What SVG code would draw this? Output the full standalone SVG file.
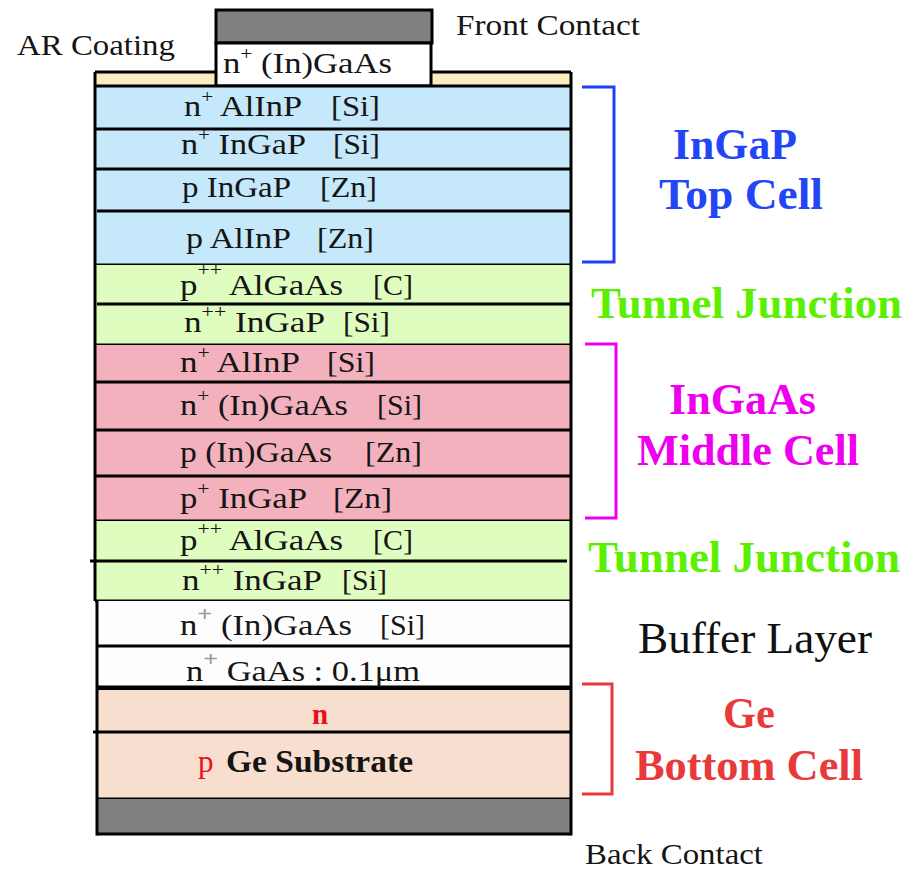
<svg xmlns="http://www.w3.org/2000/svg" width="904" height="871" viewBox="0 0 904 871">
<style>
.t{font-family:"Liberation Serif","DejaVu Serif","Times New Roman",serif;font-size:29px;fill:#151515}
.b{font-family:"Liberation Serif","DejaVu Serif","Times New Roman",serif;font-size:44px;font-weight:bold}
.r{font-family:"Liberation Serif","DejaVu Serif","Times New Roman",serif;font-size:44px;fill:#111}
.ln{stroke:#000;stroke-width:3;fill:none}
.blue{fill:#c5e8fb}.green{fill:#e0fdc0}.pink{fill:#f3b1be}.white{fill:#fdfdfd}.ge{fill:#f7dece}.ar{fill:#faebc0}.gray{fill:#808080}
</style>
<rect width="904" height="871" fill="#fff"/>

<g id="labels-top">
<text class="t" x="17" y="55" textLength="158" lengthAdjust="spacingAndGlyphs">AR Coating</text>
<text class="t" x="456" y="35" textLength="184" lengthAdjust="spacingAndGlyphs">Front Contact</text>
<text class="t" x="585" y="864" textLength="178" lengthAdjust="spacingAndGlyphs">Back Contact</text>
</g>

<g id="ar-coating">
<rect class="ar" x="95" y="72" width="476" height="14"/>
<path class="ln" d="M95,72 H571"/>
</g>

<g id="front-contact">
<rect class="gray" x="216" y="10" width="216" height="33" stroke="#000" stroke-width="3"/>
</g>
<g id="cap-layer">
<rect x="216" y="43" width="215" height="43" fill="#fff" stroke="#000" stroke-width="3"/>
<text class="t" x="223" y="73" textLength="169" lengthAdjust="spacingAndGlyphs">n<tspan font-size="18" dy="-13">+</tspan><tspan dy="13"> (In)GaAs</tspan></text>
</g>

<g id="top-cell">
<rect class="blue" x="95" y="86" width="476" height="179"/>
<path class="ln" d="M95,86 H571 M95,129 H571 M95,169 H571 M97,211 H571 M95,265 H571"/>
<text class="t" x="184" y="116" textLength="118" lengthAdjust="spacingAndGlyphs">n<tspan font-size="18" dy="-13">+</tspan><tspan dy="13"> AlInP</tspan></text>
<text class="t" x="331" y="116" textLength="49" lengthAdjust="spacingAndGlyphs">[Si]</text>
<text class="t" x="181" y="154" textLength="125" lengthAdjust="spacingAndGlyphs">n<tspan font-size="18" dy="-13">+</tspan><tspan dy="13"> InGaP</tspan></text>
<text class="t" x="333" y="154" textLength="47" lengthAdjust="spacingAndGlyphs">[Si]</text>
<text class="t" x="182" y="197" textLength="109" lengthAdjust="spacingAndGlyphs">p InGaP</text>
<text class="t" x="320" y="197" textLength="57" lengthAdjust="spacingAndGlyphs">[Zn]</text>
<text class="t" x="186" y="248" textLength="105" lengthAdjust="spacingAndGlyphs">p AlInP</text>
<text class="t" x="317" y="248" textLength="57" lengthAdjust="spacingAndGlyphs">[Zn]</text>
</g>

<g id="tunnel-junction-1">
<rect class="green" x="95" y="265" width="476" height="80"/>
<path class="ln" d="M97,304 H571 M95,345 H571"/>
<text class="t" x="180" y="295" textLength="163" lengthAdjust="spacingAndGlyphs">p<tspan font-size="18" dy="-19">++</tspan><tspan dy="19"> AlGaAs</tspan></text>
<text class="t" x="373" y="295" textLength="40" lengthAdjust="spacingAndGlyphs">[C]</text>
<text class="t" x="184" y="332" textLength="141" lengthAdjust="spacingAndGlyphs">n<tspan font-size="18" dy="-14">++</tspan><tspan dy="14"> InGaP</tspan></text>
<text class="t" x="343" y="332" textLength="47" lengthAdjust="spacingAndGlyphs">[Si]</text>
</g>

<g id="middle-cell">
<rect class="pink" x="95" y="345" width="476" height="176"/>
<path class="ln" d="M95,382 H571 M95,430 H571 M95,476 H571 M95,521 H571"/>
<text class="t" x="180" y="372" textLength="120" lengthAdjust="spacingAndGlyphs">n<tspan font-size="18" dy="-13">+</tspan><tspan dy="13"> AlInP</tspan></text>
<text class="t" x="327" y="372" textLength="48" lengthAdjust="spacingAndGlyphs">[Si]</text>
<text class="t" x="180" y="415" textLength="168" lengthAdjust="spacingAndGlyphs">n<tspan font-size="18" dy="-13">+</tspan><tspan dy="13"> (In)GaAs</tspan></text>
<text class="t" x="377" y="415" textLength="45" lengthAdjust="spacingAndGlyphs">[Si]</text>
<text class="t" x="180" y="462" textLength="152" lengthAdjust="spacingAndGlyphs">p (In)GaAs</text>
<text class="t" x="365" y="462" textLength="57" lengthAdjust="spacingAndGlyphs">[Zn]</text>
<text class="t" x="180" y="508" textLength="127" lengthAdjust="spacingAndGlyphs">p<tspan font-size="18" dy="-13">+</tspan><tspan dy="13"> InGaP</tspan></text>
<text class="t" x="333" y="508" textLength="59" lengthAdjust="spacingAndGlyphs">[Zn]</text>
</g>

<g id="tunnel-junction-2">
<rect class="green" x="95" y="521" width="476" height="80"/>
<path class="ln" d="M90,561 H567 M95,601 H571"/>
<text class="t" x="180" y="550" textLength="163" lengthAdjust="spacingAndGlyphs">p<tspan font-size="18" dy="-15">++</tspan><tspan dy="15"> AlGaAs</tspan></text>
<text class="t" x="373" y="550" textLength="40" lengthAdjust="spacingAndGlyphs">[C]</text>
<text class="t" x="182" y="590" textLength="140" lengthAdjust="spacingAndGlyphs">n<tspan font-size="18" dy="-14">++</tspan><tspan dy="14"> InGaP</tspan></text>
<text class="t" x="342" y="590" textLength="45" lengthAdjust="spacingAndGlyphs">[Si]</text>
</g>

<g id="buffer-layer">
<rect class="white" x="97" y="601" width="474" height="86"/>
<path class="ln" d="M97,646 H571"/>
<path d="M97,688 H571" stroke="#000" stroke-width="5"/>
<text class="t" x="180" y="635" textLength="172" lengthAdjust="spacingAndGlyphs">n<tspan font-size="22" font-weight="bold" fill="#9a9a9a" dy="-14">+</tspan><tspan dy="14"> (In)GaAs</tspan></text>
<text class="t" x="380" y="635" textLength="45" lengthAdjust="spacingAndGlyphs">[Si]</text>
<text class="t" x="186" y="681" textLength="234" lengthAdjust="spacingAndGlyphs">n<tspan font-size="22" font-weight="bold" fill="#9a9a9a" dy="-15">+</tspan><tspan dy="15"> GaAs : 0.1μm</tspan></text>
</g>

<g id="bottom-cell">
<rect class="ge" x="97" y="690" width="474" height="109"/>
<path class="ln" d="M93,732 H571 M97,799 H571"/>
<text class="t" x="312" y="724" font-weight="bold" style="fill:#e8101a;font-size:29px">n</text>
<text class="t" x="198" y="772" style="fill:#e8101a;font-size:31px">p</text>
<text class="t" x="226" y="772" font-weight="bold" textLength="187" lengthAdjust="spacingAndGlyphs" style="font-size:31px">Ge Substrate</text>
</g>

<g id="back-contact">
<rect class="gray" x="97" y="799" width="474" height="35"/>
<path class="ln" d="M97,834 H571"/>
</g>

<g id="outline">
<path class="ln" d="M95,72 V601 M97,601 V835.5 M571,72 V835.5"/>
</g>

<g id="brackets">
<path d="M582,87 H614 V262 H582" fill="none" stroke="#2040f8" stroke-width="3"/>
<path d="M585,344 H616 V518 H585" fill="none" stroke="#ee00ee" stroke-width="3"/>
<path d="M582,684 H612 V794 H582" fill="none" stroke="#e83a3a" stroke-width="3"/>
</g>

<g id="cell-labels">
<text class="b" x="673" y="159" fill="#2346f5" textLength="124" lengthAdjust="spacingAndGlyphs">InGaP</text>
<text class="b" x="659" y="209" fill="#2346f5" textLength="164" lengthAdjust="spacingAndGlyphs">Top Cell</text>
<text class="b" x="591" y="318" fill="#5cf000" textLength="311" lengthAdjust="spacingAndGlyphs">Tunnel Junction</text>
<text class="b" x="669" y="414" fill="#ee00ee" textLength="147" lengthAdjust="spacingAndGlyphs">InGaAs</text>
<text class="b" x="637" y="465" fill="#ee00ee" textLength="222" lengthAdjust="spacingAndGlyphs">Middle Cell</text>
<text class="b" x="588" y="572" fill="#5cf000" textLength="312" lengthAdjust="spacingAndGlyphs">Tunnel Junction</text>
<text class="r" x="638" y="653" textLength="234" lengthAdjust="spacingAndGlyphs">Buffer Layer</text>
<text class="b" x="723" y="728" fill="#e83a3a" textLength="52" lengthAdjust="spacingAndGlyphs">Ge</text>
<text class="b" x="635" y="780" fill="#e83a3a" textLength="228" lengthAdjust="spacingAndGlyphs">Bottom Cell</text>
</g>
</svg>
